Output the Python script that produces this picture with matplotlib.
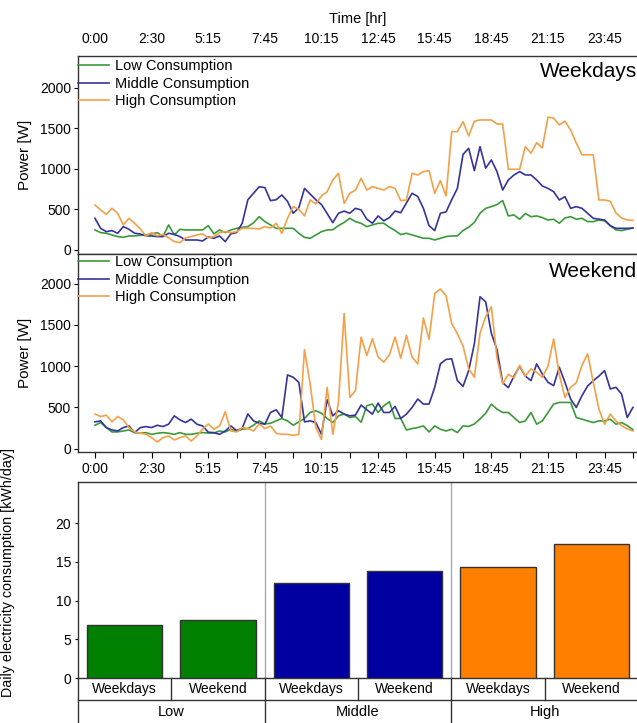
import matplotlib
matplotlib.use("Agg")
import matplotlib.pyplot as plt
import matplotlib.transforms as mtransforms
import numpy as np

plt.rcParams['font.family'] = ['Liberation Sans', 'DejaVu Sans']

# ---------------- data ----------------
tick_labels = ["0:00", "2:30", "5:15", "7:45", "10:15", "12:45", "15:45", "18:45", "21:15", "23:45"]
series_names = ["Low Consumption", "Middle Consumption", "High Consumption"]

weekday_low = [247, 214, 206, 185, 165, 156, 173, 173, 181, 185, 198, 214, 165, 309, 185, 255,
               247, 247, 247, 247, 300, 198, 247, 214, 247, 267, 280, 288, 335, 411, 350, 309,
               267, 267, 267, 267, 206, 156, 144, 185, 226, 247, 250, 300, 340, 391, 350, 329,
               288, 309, 329, 329, 280, 240, 190, 206, 185, 165, 144, 144, 123, 144, 165, 173,
               173, 240, 280, 340, 453, 514, 535, 560, 610, 420, 432, 379, 450, 411, 420, 400,
               370, 379, 330, 395, 411, 380, 391, 350, 350, 370, 360, 300, 247, 239, 255, 270]
weekday_mid = [391, 267, 226, 239, 206, 288, 255, 206, 198, 173, 173, 165, 165, 206, 193, 165,
               123, 123, 123, 111, 160, 144, 173, 103, 200, 214, 330, 620, 700, 780, 770, 609,
               620, 679, 600, 453, 520, 760, 690, 620, 560, 450, 337, 453, 480, 453, 514, 494,
               380, 330, 420, 360, 400, 480, 460, 580, 700, 660, 514, 300, 239, 453, 470, 620,
               760, 1180, 1255, 980, 1276, 1010, 1111, 967, 740, 864, 926, 967, 926, 926, 864, 790,
               760, 720, 617, 658, 514, 535, 514, 453, 391, 380, 370, 300, 267, 267, 267, 270]
weekday_high = [555, 494, 440, 514, 453, 309, 391, 330, 260, 170, 214, 175, 190, 150, 103, 91,
                150, 165, 185, 198, 150, 165, 214, 226, 214, 226, 267, 267, 267, 260, 288, 270,
                329, 206, 391, 535, 502, 420, 617, 568, 667, 720, 864, 946, 576, 700, 740, 885,
                740, 782, 761, 740, 782, 760, 609, 617, 946, 926, 967, 979, 700, 856, 667, 1461,
                1461, 1584, 1407, 1590, 1605, 1605, 1605, 1555, 1555, 996, 996, 996, 1275, 1195, 1325, 1260,
                1640, 1630, 1543, 1590, 1480, 1320, 1175, 1175, 1175, 617, 617, 600, 457, 395, 370, 365]

weekend_low = [284, 317, 256, 203, 203, 215, 227, 195, 187, 195, 174, 187, 195, 187, 174, 195,
               174, 174, 187, 195, 190, 190, 215, 203, 236, 210, 236, 244, 285, 337, 300, 309,
               337, 366, 337, 285, 325, 366, 439, 460, 431, 366, 317, 398, 420, 378, 390, 320,
               520, 541, 439, 520, 569, 366, 366, 227, 244, 256, 276, 203, 276, 236, 215, 236,
               195, 276, 270, 300, 360, 430, 540, 480, 439, 439, 378, 317, 337, 439, 297, 337,
               439, 541, 561, 561, 561, 378, 358, 337, 317, 337, 337, 358, 297, 317, 280, 230]
weekend_mid = [325, 337, 256, 227, 215, 256, 276, 195, 256, 268, 256, 284, 268, 297, 398, 350,
               317, 358, 297, 276, 200, 195, 174, 215, 276, 220, 250, 420, 337, 309, 297, 439,
               472, 378, 894, 866, 805, 325, 337, 317, 174, 594, 398, 460, 420, 398, 407, 529,
               472, 419, 553, 439, 439, 512, 366, 419, 500, 602, 541, 541, 744, 1029, 1082, 1090,
               825, 756, 947, 1272, 1842, 1780, 1400, 1200, 800, 740, 880, 1000, 880, 825, 1028, 906,
               805, 764, 988, 805, 602, 500, 642, 760, 825, 880, 947, 724, 744, 663, 378, 500]
weekend_high = [419, 390, 406, 325, 390, 350, 256, 203, 187, 174, 134, 81, 134, 154, 106, 134,
                154, 93, 154, 236, 300, 236, 276, 447, 215, 203, 256, 244, 215, 300, 244, 276,
                187, 174, 174, 162, 174, 1200, 785, 256, 113, 744, 174, 561, 1639, 622, 703, 1353,
                1130, 1333, 1110, 1049, 1138, 1353, 1098, 1374, 1110, 1028, 1585, 1325, 1883, 1936, 1854, 1516,
                1394, 1244, 968, 866, 1400, 1600, 1720, 1100, 785, 900, 860, 1010, 880, 967, 927, 866,
                1000, 1330, 900, 622, 744, 800, 1010, 1150, 805, 480, 297, 419, 337, 280, 240, 215]

bar_groups = ["Low", "Middle", "High"]
bar_days = ["Weekdays", "Weekend"]
bar_values = [6.8, 7.5, 12.2, 13.8, 14.3, 17.3]

# ---------------- style ----------------
line_colors = ["#3a9a3a", "#34349c", "#f5a048"]
bar_colors = ["#007f00", "#007f00", "#0000a0", "#0000a0", "#ff8000", "#ff8000"]

W, H = 637, 723
fig = plt.figure(figsize=(W / 100, H / 100), dpi=100)

def fx(px):
    return px / W

def fy(py):
    return 1 - py / H

left = fx(78)
width = 1.0 - left + fx(1)
ax1 = fig.add_axes([left, fy(254), width, fy(56) - fy(254)])
ax2 = fig.add_axes([left, fy(452), width, fy(254) - fy(452)])
ax3 = fig.add_axes([left, fy(678), width, fy(482) - fy(678)])

x = np.arange(len(weekday_low))
tick_pos = np.arange(0, 10 * len(tick_labels), 10)

for ax, data, title, ylim, ty, ly in [
        (ax1, [weekday_low, weekday_mid, weekday_high], "Weekdays", (-50, 2395), 0.92, 1 - 3 / 198),
        (ax2, [weekend_low, weekend_mid, weekend_high], "Weekend", (-40, 2360), 0.91, 1 - 1 / 198)]:
    for vals, c, name in zip(data, line_colors, series_names):
        ax.plot(x, vals, color=c, lw=1.2, label=name)
    ax.set_xlim(-3, 95.9)
    ax.set_ylim(*ylim)
    ax.set_yticks([0, 500, 1000, 1500, 2000])
    ax.set_ylabel("Power [W]", fontsize=11, labelpad=6)
    ax.tick_params(axis='y', direction='out', length=3, width=0.8, labelsize=10, pad=2)
    ax.text(0.998, ty, title, transform=ax.transAxes, ha='right', va='center', fontsize=15)
    ax.legend(loc='upper left', bbox_to_anchor=(0.0, ly), borderaxespad=0.0, frameon=False,
              fontsize=10.5, handlelength=2.1, handletextpad=0.45, labelspacing=0.25,
              borderpad=0.0)
    for sp in ax.spines.values():
        sp.set_linewidth(1.0)
        sp.set_color("#333333")

# top panel: labels on top, small ticks on the lower edge
ax1.set_xticks(tick_pos)
ax1.set_xticks(np.arange(5, 96, 10), minor=True)
ax1.set_xticklabels(tick_labels)
ax1.tick_params(axis='x', which='both', top=False, bottom=True, labeltop=True, labelbottom=False,
                direction='out', length=3, width=0.8, labelsize=10, pad=4)
ax1.xaxis.set_label_position('top')
ax1.set_xlabel("Time [hr]", fontsize=10.5, labelpad=7)

ax2.set_xticks(tick_pos)
ax2.set_xticks(np.arange(5, 96, 10), minor=True)
ax2.set_xticklabels(tick_labels)
ax2.tick_params(axis='x', which='both', direction='out', length=4, width=0.8, labelsize=10, pad=3)

# ---------------- bar panel ----------------
bx = np.arange(len(bar_values))
ax3.bar(bx, bar_values, width=0.81, color=bar_colors, edgecolor="#333333", linewidth=1.0, zorder=3)
ax3.set_xlim(-0.5, 5.5)
ax3.set_ylim(0, 25.3)
ax3.set_yticks([0, 5, 10, 15, 20])
ax3.set_xticks([])
ax3.tick_params(axis='y', direction='out', length=2, width=0.8, labelsize=10, pad=3)
ax3.set_ylabel("Daily electricity consumption [kWh/day]", fontsize=10.3)
ax3.yaxis.set_label_coords(-0.113, 0.54)
for sp in ax3.spines.values():
    sp.set_linewidth(1.0)
    sp.set_color("#333333")
for sep in [1.5, 3.5]:
    ax3.axvline(sep, color="#aaaaaa", lw=1.0, zorder=1)

trans = mtransforms.blended_transform_factory(ax3.transData, ax3.transAxes)
row1 = -22 / 196
row2 = -46 / 196
tcol = "#333333"
ax3.plot([-0.5, 5.5], [row1, row1], color=tcol, lw=1.0, transform=trans, clip_on=False)
ax3.plot([-0.5, -0.5], [0, row2], color=tcol, lw=1.0, transform=trans, clip_on=False)
for xv in [0.5, 1.5, 2.5, 3.5, 4.5]:
    ax3.plot([xv, xv], [0, row1], color=tcol, lw=1.0, transform=trans, clip_on=False)
for xv in [1.5, 3.5]:
    ax3.plot([xv, xv], [row1, row2], color=tcol, lw=1.0, transform=trans, clip_on=False)
for i, v in enumerate(bar_values):
    ax3.text(i, row1 / 2, bar_days[i % 2], transform=trans, ha='center', va='center', fontsize=10)
for g, name in enumerate(bar_groups):
    ax3.text(2 * g + 0.5, (row1 + row2) / 2, name, transform=trans, ha='center', va='center',
             fontsize=10.5)

fig.savefig("out.png", dpi=100)
